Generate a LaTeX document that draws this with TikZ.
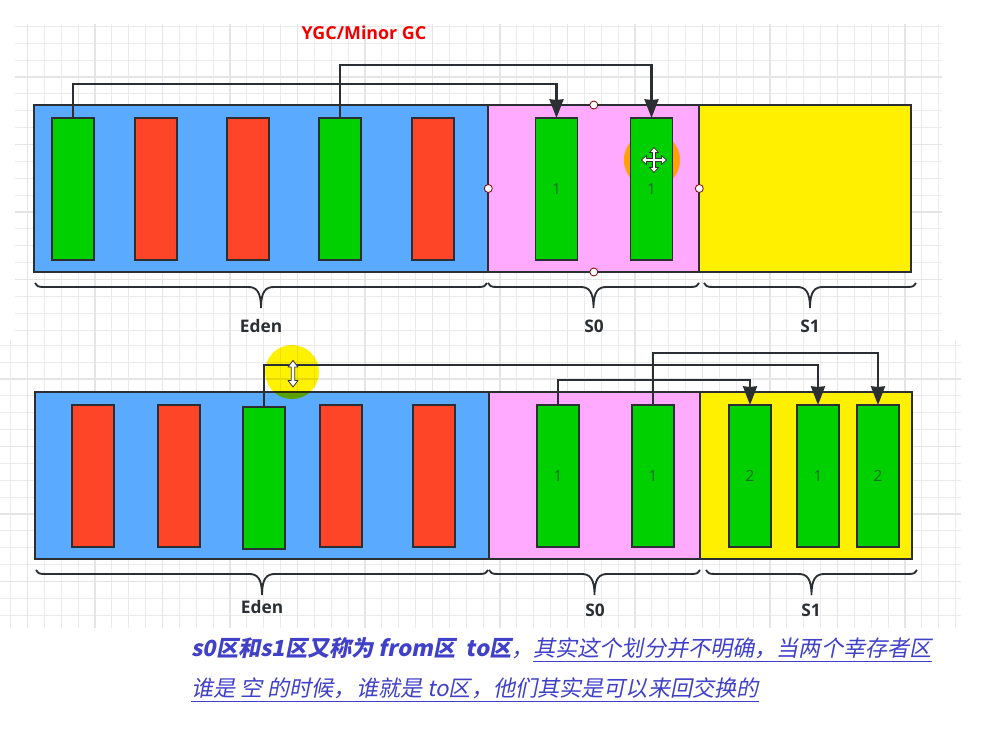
\documentclass[tikz,border=0pt]{standalone}
\usepackage{fontspec}
\usepackage{tikz}
\usetikzlibrary{arrows.meta}
\setsansfont{Open Sans}
\newfontfamily\notefont[FakeSlant=0.2]{Noto Sans CJK SC}
\definecolor{edenblue}{HTML}{5AAAFF}
\definecolor{fromPink}{HTML}{FFAAFF}
\definecolor{toYellow}{HTML}{FFF000}
\definecolor{liveGreen}{HTML}{00D000}
\definecolor{deadRed}{HTML}{FF4528}
\definecolor{inkdark}{HTML}{2B2F33}
\definecolor{noteblue}{HTML}{4040C8}
\definecolor{digitgreen}{HTML}{1C6B2C}
\tikzset{
  area/.style={draw=inkdark,line width=1.5pt,minimum width=#1,minimum height=125.25pt,inner sep=0pt,outer sep=0pt},
  livebar/.style={draw=inkdark,line width=1.4pt,fill=liveGreen,minimum width=31.5pt,minimum height=106.5pt,inner sep=0pt,outer sep=0pt,
    font=\sffamily\fontsize{11.5}{13}\selectfont,text=digitgreen},
  deadbar/.style={livebar,fill=deadRed},
  handle/.style={circle,draw=red!50!black,fill=white,line width=0.6pt,minimum size=6pt,inner sep=0pt},
  flow/.style={draw=inkdark,line width=1.6pt,-{Stealth[length=14pt,width=10.5pt,inset=0.5pt]}},
  gcbrace/.style={draw=inkdark,line width=1.4pt},
  gclabel/.style={font=\sffamily\bfseries\fontsize{13}{15}\selectfont,text=inkdark,inner sep=0pt},
  notetext/.style={anchor=base west,inner sep=0pt,font=\notefont\fontsize{16.6}{19}\selectfont,text=noteblue},
  minorgrid/.style={step=12.65625pt,black!8,line width=0.8pt},
  majorgrid/.style={step=50.625pt,black!10,line width=0.9pt},
  cursorshape/.style={draw=black!80,fill=white,line width=0.6pt,line join=round},
}
% brace under an area: left x, right x, top y
\newcommand{\gcbraceat}[3]{
  \pgfmathsetmacro{\bracemid}{(#1+#2)/2}
  \draw[gcbrace] (#1,#3) .. controls ({#1+1},{#3+3}) and ({#1+3},{#3+4}) .. ({#1+9},{#3+4})
    -- ({\bracemid-13},{#3+4}) .. controls ({\bracemid-5},{#3+4}) and (\bracemid,{#3+8}) .. (\bracemid,{#3+25})
    .. controls (\bracemid,{#3+8}) and ({\bracemid+5},{#3+4}) .. ({\bracemid+13},{#3+4})
    -- ({#2-9},{#3+4}) .. controls ({#2-3},{#3+4}) and ({#2-1},{#3+3}) .. (#2,#3);
}
\newcommand{\noteline}[1]{\underline{\smash{#1}\rule[-2.2pt]{0pt}{1pt}}}
\newcommand{\notecomma}{\symbol{"FF0C}}
\begin{document}
\begin{tikzpicture}[x=0.75pt,y=-0.75pt]
\useasboundingbox (0,0) rectangle (989,730);
% Background grids
\begin{scope}[shift={(27.5,9.5)}]
\draw[minorgrid] (-12.5,14.5) grid (914.5,330.5);
\draw[majorgrid] (-12.5,14.5) grid (914.5,330.5);
\end{scope}
\begin{scope}[shift={(27.5,41.5)}]
\draw[minorgrid] (-27.5,298.5) grid (933.5,586.5);
\draw[majorgrid] (-27.5,298.5) grid (933.5,586.5);
\end{scope}
\node[font=\sffamily\bfseries\fontsize{13.4}{15}\selectfont,text=red!95!black,inner sep=0pt] (title) at (364,33) {YGC/Minor GC};
% First heap
\node[area=340.5pt,fill=edenblue] (edenA) at (261,188.5) {};
\node[area=158.25pt,fill=fromPink] (fromA) at (593.8,188.5) {};
\node[area=159pt,fill=toYellow] (toA) at (805.3,188.5) {};
\fill[yellow,blend mode=multiply] (652,160) circle [radius=28];
\node[livebar] (a1) at (73,189) {};
\node[deadbar] (a2) at (156,189) {};
\node[deadbar] (a3) at (248,189) {};
\node[livebar] (a4) at (340,189) {};
\node[deadbar] (a5) at (433,189) {};
\node[livebar] (a6) at (556.5,189) {1};
\node[livebar] (a7) at (651.5,189) {1};
\node[handle] (h1) at (fromA.north) {};
\node[handle] (h2) at (fromA.south) {};
\node[handle] (h3) at (fromA.west) {};
\node[handle] (h4) at (fromA.east) {};
\draw[flow] (a1.north) -- ++(0,-34) -| (a6.north);
\draw[flow] (a4.north) -- ++(0,-53) -| (a7.north);
% Move cursor
\draw[cursorshape] (654,147.5) -- (658.5,152.5) -- (655.5,152.5) -- (655.5,158.5) -- (661.5,158.5) -- (661.5,155.5)
  -- (666.5,160) -- (661.5,164.5) -- (661.5,161.5) -- (655.5,161.5) -- (655.5,167.5) -- (658.5,167.5)
  -- (654,172.5) -- (649.5,167.5) -- (652.5,167.5) -- (652.5,161.5) -- (646.5,161.5) -- (646.5,164.5)
  -- (641.5,160) -- (646.5,155.5) -- (646.5,158.5) -- (652.5,158.5) -- (652.5,152.5) -- (649.5,152.5) -- cycle;
\gcbraceat{35}{487}{283}
\gcbraceat{488}{699}{283}
\gcbraceat{704}{916}{283}
\node[gclabel] (edenTextA) at (261,326) {Eden};
\node[gclabel] (fromTextA) at (594,326) {S0};
\node[gclabel] (toTextA) at (810,326) {S1};
% Second heap
\node[area=340.5pt,fill=edenblue] (edenB) at (262,475.5) {};
\node[area=158.25pt,fill=fromPink] (fromB) at (594.5,475.5) {};
\node[area=159pt,fill=toYellow] (toB) at (806,475.5) {};
\fill[yellow,blend mode=multiply] (292,372) circle [radius=27];
\node[deadbar] (b1) at (93,476) {};
\node[deadbar] (b2) at (179,476) {};
\node[livebar] (b3) at (264,478) {};
\node[deadbar] (b4) at (341,476) {};
\node[deadbar] (b5) at (434,476) {};
\node[livebar] (b6) at (558,476) {1};
\node[livebar] (b7) at (653,476) {1};
\node[livebar] (b8) at (750,476) {2};
\node[livebar] (b9) at (818,476) {1};
\node[livebar] (b10) at (878,476) {2};
\draw[flow] (b6.north) -- ++(0,-25) -| (b8.north);
\draw[flow] (b3.north) -- ++(0,-42) -| (b9.north);
\draw[flow] (b7.north) -- ++(0,-52) -| (b10.north);
% Resize cursor
\draw[cursorshape] (293,360.5) -- (298,367) -- (294.8,367) -- (294.8,380.5) -- (298,380.5) -- (293,387)
  -- (288,380.5) -- (291.2,380.5) -- (291.2,367) -- (288,367) -- cycle;
\gcbraceat{36}{488}{570}
\gcbraceat{489}{700}{570}
\gcbraceat{706}{917}{570}
\node[gclabel] (edenTextB) at (262,607) {Eden};
\node[gclabel] (fromTextB) at (595,610) {S0};
\node[gclabel] (toTextB) at (811,610) {S1};
% Note under the heaps
\node[notetext] (noteA) at (191,656)
  {\textbf{s0区和s1区又称为 from区\ \ to区}\notecomma\noteline{其实这个划分并不明确\notecomma 当两个幸存者区}};
\node[notetext] (noteB) at (191,696)
  {\noteline{谁是 空 的时候\notecomma 谁就是 to区\notecomma 他们其实是可以来回交换的}};
\end{tikzpicture}
\end{document}
